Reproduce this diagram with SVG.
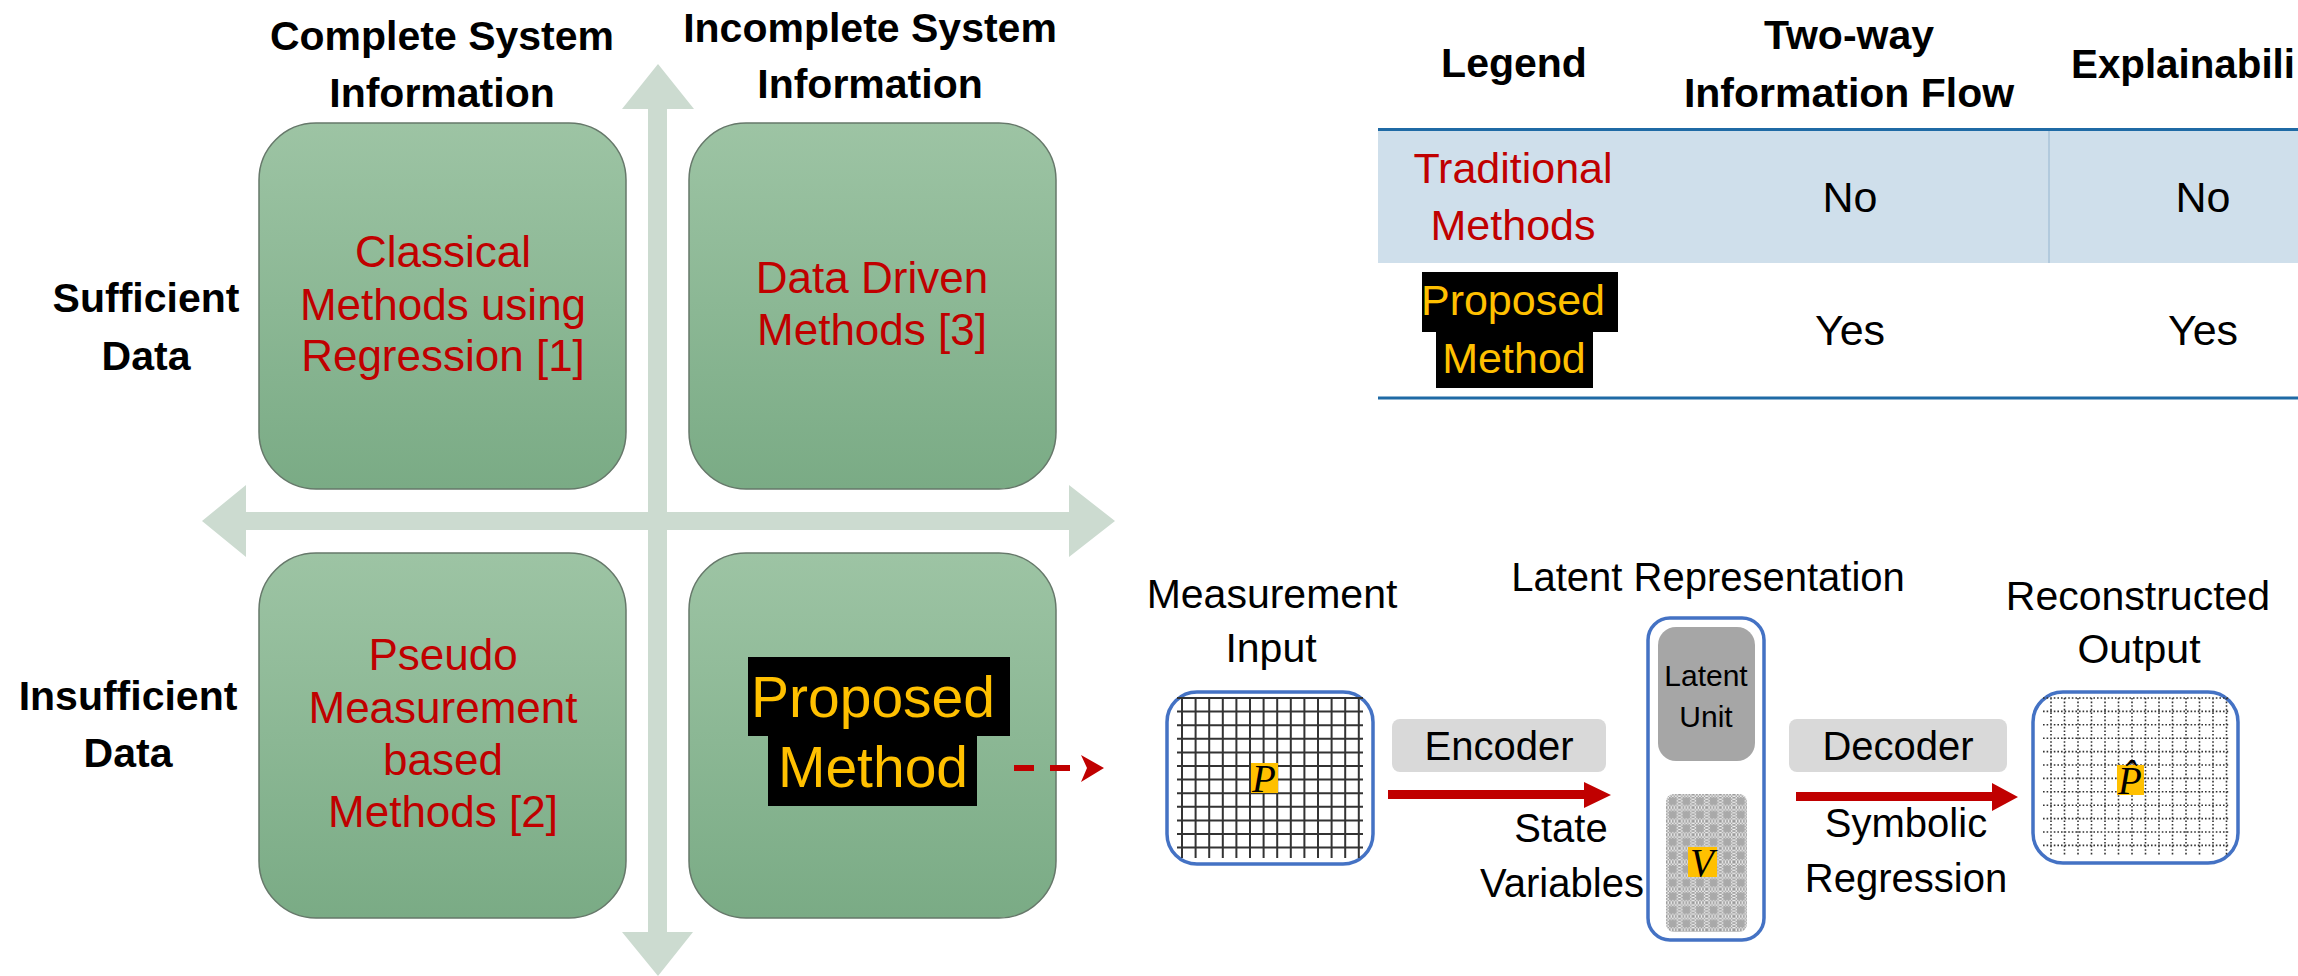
<svg xmlns="http://www.w3.org/2000/svg" width="2298" height="976" viewBox="0 0 2298 976">
<defs>
<style>
text{font-family:"Liberation Sans",Arial,sans-serif;text-anchor:middle}
.hd{font-weight:bold;font-size:41px;fill:#000}
.red{font-size:44px;fill:#C00000}
.lbl{font-size:41px;fill:#000}
.s40{font-size:40px}
.s30{font-size:30px}
.tb{font-size:43px;fill:#000}
.yel{fill:#FFC000}
.quad{fill:url(#gq);stroke:#66786a;stroke-width:1.5}
.axis{fill:#CCDBD0}
.frame{fill:#fff;stroke:#4472C4;stroke-width:3.5}
.grid{stroke:#333;stroke-width:2;fill:none}
.dgrid{stroke:#333;stroke-width:1.6;fill:none;stroke-dasharray:1.6 2}
.tag{fill:#D9D9D9}
.arr{fill:#C00000}
.math{font-family:"Liberation Serif","DejaVu Serif",serif;font-style:italic;fill:#000;font-size:39px}
</style>
<linearGradient id="gq" x1="0" y1="0" x2="0" y2="1">
<stop offset="0" stop-color="#9DC4A4"/>
<stop offset="1" stop-color="#7AAB85"/>
</linearGradient>
<pattern id="chk" width="3" height="3" patternUnits="userSpaceOnUse">
<rect width="3" height="3" fill="#f2f2f2"/>
<rect width="1.5" height="1.5" fill="#9a9a9a"/>
<rect x="1.5" y="1.5" width="1.5" height="1.5" fill="#9a9a9a"/>
</pattern>
<pattern id="vgrid" x="1666" y="794" width="13.6" height="13.6" patternUnits="userSpaceOnUse">
<rect width="13.6" height="13.6" fill="url(#chk)"/>
<rect x="3" y="3.5" width="7.5" height="7.5" fill="#a9a9a9"/>
</pattern>
</defs>

<g id="axes">
<polygon class="axis" points="658,64 694,109 667,109 667,932 693,932 658,976 622,932 648,932 648,109 622,109"/>
<polygon class="axis" points="202,521 246,485 246,512 1069,512 1069,485 1115,521 1069,557 1069,530 246,530 246,557"/>
</g>

<g id="col-headings">
<text class="hd" x="442" y="50">Complete System</text>
<text class="hd" x="442" y="107">Information</text>
<text class="hd" x="870" y="42">Incomplete System</text>
<text class="hd" x="870" y="98">Information</text>
</g>
<g id="row-headings">
<text class="hd" x="146" y="312">Sufficient</text>
<text class="hd" x="146" y="370">Data</text>
<text class="hd" x="128" y="710">Insufficient</text>
<text class="hd" x="128" y="767">Data</text>
</g>

<g id="q-classical">
<rect class="quad" x="259" y="123" width="367" height="366" rx="57"/>
<text class="red" x="443" y="267">Classical</text>
<text class="red" x="443" y="320">Methods using</text>
<text class="red" x="443" y="371">Regression [1]</text>
</g>
<g id="q-datadriven">
<rect class="quad" x="689" y="123" width="367" height="366" rx="57"/>
<text class="red" x="872" y="293">Data Driven</text>
<text class="red" x="872" y="345">Methods [3]</text>
</g>
<g id="q-pseudo">
<rect class="quad" x="259" y="553" width="367" height="365" rx="57"/>
<text class="red" x="443" y="670">Pseudo</text>
<text class="red" x="443" y="723">Measurement</text>
<text class="red" x="443" y="775">based</text>
<text class="red" x="443" y="827">Methods [2]</text>
</g>
<g id="q-proposed">
<rect class="quad" x="689" y="553" width="367" height="365" rx="57"/>
<rect x="748" y="657" width="262" height="79" fill="#000"/>
<rect x="768" y="735" width="209" height="71" fill="#000"/>
<text class="yel" x="873" y="717" font-size="57">Proposed</text>
<text class="yel" x="873" y="787" font-size="57">Method</text>
</g>

<g id="connectors">
<line x1="1014" y1="768" x2="1078" y2="768" stroke="#C00000" stroke-width="6" stroke-dasharray="20 16"/>
<polygon class="arr" points="1081,755 1104,768 1081,782 1087,768"/>
<polygon class="arr" points="1388,790 1584,790 1584,782 1611,795 1584,808 1584,799 1388,799"/>
<polygon class="arr" points="1796,792 1992,792 1992,783 2018,797 1992,811 1992,801 1796,801"/>
</g>

<g id="legend-table">
<rect x="1378" y="131" width="920" height="132" fill="#CFDFEB"/>
<line x1="2049" y1="131" x2="2049" y2="263" stroke="#A9C3D8" stroke-width="1.5"/>
<line x1="1378" y1="129.5" x2="2298" y2="129.5" stroke="#1F6AA5" stroke-width="3"/>
<line x1="1378" y1="398" x2="2298" y2="398" stroke="#1F6AA5" stroke-width="3"/>
<text class="hd" x="1514" y="77">Legend</text>
<text class="hd" x="1849" y="49">Two-way</text>
<text class="hd" x="1849" y="107">Information Flow</text>
<text class="hd" x="2071" y="78" style="text-anchor:start" textLength="224" lengthAdjust="spacingAndGlyphs">Explainabili</text>
<text class="tb" x="1513" y="183" style="fill:#C00000">Traditional</text>
<text class="tb" x="1513" y="240" style="fill:#C00000">Methods</text>
<text class="tb" x="1850" y="212">No</text>
<text class="tb" x="2203" y="212">No</text>
<rect x="1422" y="272" width="196" height="60" fill="#000"/>
<rect x="1436" y="331" width="157" height="57" fill="#000"/>
<text class="tb" x="1513" y="315" style="fill:#FFC000">Proposed</text>
<text class="tb" x="1514" y="373" style="fill:#FFC000">Method</text>
<text class="tb" x="1850" y="345">Yes</text>
<text class="tb" x="2203" y="345">Yes</text>
</g>

<g id="measurement-input">
<text class="lbl" x="1272" y="608">Measurement</text>
<text class="lbl" x="1271" y="662">Input</text>
<rect class="frame" x="1167" y="692" width="206" height="172" rx="30"/>
<path class="grid" d="M1177 698H1363M1177 711.6H1363M1177 725.2H1363M1177 738.8H1363M1177 752.4H1363M1177 766H1363M1177 779.6H1363M1177 793.2H1363M1177 806.8H1363M1177 820.4H1363M1177 834H1363M1177 847.6H1363M1182 697V858M1195.6 697V858M1209.2 697V858M1222.8 697V858M1236.4 697V858M1250 697V858M1263.6 697V858M1277.2 697V858M1290.8 697V858M1304.4 697V858M1318 697V858M1331.6 697V858M1345.2 697V858M1358.8 697V858"/>
<rect x="1251" y="763" width="27" height="30" fill="#FFC000"/>
<text class="math" x="1264" y="792">P</text>
</g>

<g id="encoder">
<rect class="tag" x="1392" y="719" width="214" height="53" rx="8"/>
<text class="lbl s40" x="1499" y="760">Encoder</text>
<text class="lbl s40" x="1561" y="842">State</text>
<text class="lbl s40" x="1562" y="897">Variables</text>
</g>

<g id="latent">
<text class="lbl s40" x="1708" y="591">Latent Representation</text>
<rect class="frame" x="1648" y="618" width="116" height="322" rx="22"/>
<rect x="1658" y="627" width="97" height="134" rx="18" fill="#A6A6A6"/>
<text class="lbl s30" x="1706" y="686">Latent</text>
<text class="lbl s30" x="1706" y="727">Unit</text>
<rect x="1666" y="794" width="81" height="138" rx="8" fill="url(#vgrid)"/>
<rect x="1688" y="847" width="29" height="30" fill="#FFC000"/>
<text class="math" x="1702" y="876">V</text>
</g>

<g id="decoder">
<rect class="tag" x="1789" y="719" width="218" height="53" rx="8"/>
<text class="lbl s40" x="1898" y="760">Decoder</text>
<text class="lbl s40" x="1906" y="837">Symbolic</text>
<text class="lbl s40" x="1906" y="892">Regression</text>
</g>

<g id="reconstructed-output">
<text class="lbl" x="2138" y="610">Reconstructed</text>
<text class="lbl" x="2139" y="663">Output</text>
<rect class="frame" x="2033" y="692" width="205" height="171" rx="30"/>
<path class="dgrid" d="M2043 698H2230M2043 711.4H2230M2043 724.8H2230M2043 738.2H2230M2043 751.6H2230M2043 765H2230M2043 778.4H2230M2043 791.8H2230M2043 805.2H2230M2043 818.6H2230M2043 832H2230M2043 845.4H2230M2051 698V856M2064.5 698V856M2078 698V856M2091.5 698V856M2105 698V856M2118.5 698V856M2132 698V856M2145.5 698V856M2159 698V856M2172.5 698V856M2186 698V856M2199.5 698V856M2213 698V856M2226.5 698V856"/>
<rect x="2117" y="765" width="27" height="30" fill="#FFC000"/>
<text class="math" x="2130" y="794">P&#770;</text>
</g>
</svg>
